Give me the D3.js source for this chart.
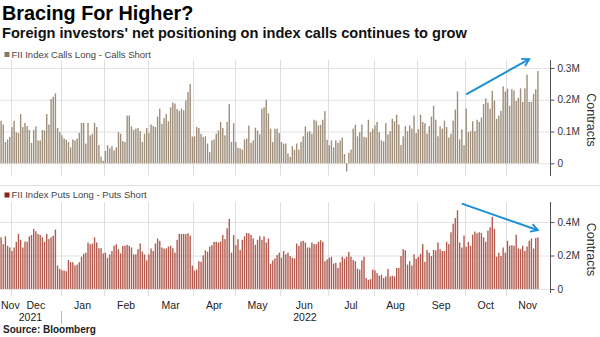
<!DOCTYPE html>
<html>
<head>
<meta charset="utf-8">
<script src="https://cdn.jsdelivr.net/npm/d3@7/dist/d3.min.js"></script>
<style>
  html, body { margin: 0; padding: 0; background: #fff; }
  svg { display: block; font-family: "Liberation Sans", Arial, sans-serif; }
</style>
</head>
<body>
<svg id="chart" width="600" height="337"></svg>
<script>
// Trading sessions: weekdays between these dates, minus exchange holidays
const firstSession = "2021-11-24";
const lastSession = "2022-11-22";
const holidays = [
  "2022-01-26", "2022-03-01", "2022-03-18", "2022-04-14", "2022-04-15",
  "2022-05-03", "2022-08-09", "2022-08-15", "2022-08-31", "2022-10-05",
  "2022-10-26", "2022-11-08"
];

// FII index calls, long minus short (thousand contracts), one value per session
const callsNet = [
  134,122,67,75,83,114,134,98,95,155, 114,127,117,105,64,105,116,72,72,105,
  103,155,122,202,209,220,111,98,88,78, 74,67,50,75,72,78,96,127,127,62,
  127,88,93,127,114,57,21,8,39,57, 47,54,41,50,98,93,70,67,150,150,
  116,105,109,111,101,67,93,111,96,122, 117,114,147,172,124,142,155,132,176,191,
  188,171,165,172,167,
  198,224,250,84,85,114,111,93,83,85, 62,35,72,75,93,103,130,111,88,130,
  186,67,126,67,49,47,43,75,78,119, 64,72,112,103,91,172,176,200,157,109,
  67,109,109,95,67,62,62,31,20,54, 43,62,43,67,85,116,98,101,93,137,
  134,119,121,137,164,74,57,72,50,72, 64,72,81,29,-26,33,43,109,121,85,
  98,122,
  83,81,137,98,109,119,130,98,72,69, 126,91,101,140,132,153,122,57,85,117,
  101,119,109,150,95,107,153,130,126,93, 117,147,181,137,85,116,109,134,114,81,
  93,134,169,226,75,107,57,172,98,101, 132,101,137,130,144,186,204,191,172,228,
  198,140,150,165,242,226,235,181,233,229, 196,206,236,193,236,279,193,193,218,233,
  290
];

// FII index puts, long minus short (thousand contracts), one value per session
const putsNet = [
  309,268,315,258,248,227,248,282,329,294, 248,284,282,315,323,359,345,329,323,309,
  282,329,298,309,319,355,140,120,112,110, 106,173,160,160,140,146,160,193,211,217,
  278,268,272,309,278,244,244,213,217,187, 207,227,258,268,238,213,258,258,264,258,
  248,207,207,238,272,223,207,171,207,242, 227,272,302,288,248,242,242,254,258,244,
  217,294,329,329,329,
  329,333,319,140,110,116,166,162,201,231, 223,254,262,282,282,278,284,323,298,363,
  420,217,323,262,298,233,294,315,335,333, 323,302,264,294,315,294,315,278,302,152,
  171,183,203,217,187,227,207,217,197,187, 183,272,258,284,288,278,248,248,278,268,
  268,282,292,282,166,177,187,193,152,156, 126,160,193,181,193,221,193,173,166,122,
  116,171,
  193,65,55,59,116,112,95,79,85,65, 75,120,75,79,75,126,126,197,238,231,
  146,166,140,207,181,193,211,268,162,233, 217,197,233,231,278,238,227,227,282,268,
  339,390,424,471,278,248,319,252,282,258, 325,343,333,339,335,309,282,349,369,430,
  359,193,217,197,248,217,288,258,262,258, 325,242,238,258,227,254,288,302,242,304,
  309
];

// Axis ticks (thousand contracts)
const callTicks = [0, 100, 200, 300];
const putTicks = [0, 200, 400];
const monthNames = ["Jan","Feb","Mar","Apr","May","Jun","Jul","Aug","Sep","Oct","Nov","Dec"];

// Trend annotations: [session index, value]
const callsTrend = [[214, 217], [243, 328]];
const putsTrend = [[212, 510], [247, 351]];

const titleText = "Bracing For Higher?";
const subtitleText = "Foreign investors' net positioning on index calls continues to grow";
const callsLabel = "FII Index Calls Long - Calls Short";
const putsLabel = "FII Index Puts Long - Puts Short";
const unitLabel = "Contracts";
const sourceText = "Source: Bloomberg";

// ---- sessions ----
const parse = d3.utcParse("%Y-%m-%d");
const fmtDay = d3.utcFormat("%Y-%m-%d");
const holidaySet = new Set(holidays);
let sessions = d3.utcDay.range(parse(firstSession), d3.utcDay.offset(parse(lastSession), 1))
  .filter(d => d.getUTCDay() % 6 !== 0 && !holidaySet.has(fmtDay(d)));
const n = Math.min(sessions.length, callsNet.length, putsNet.length);
sessions = sessions.slice(0, n);

// ---- layout ----
const W = 600;
const plotLeft = 0, barsRight = 539, axisX = 550;
const svg = d3.select("#chart");

const x = d3.scaleBand().domain(sessions).range([plotLeft, barsRight])
  .paddingInner(0.36).paddingOuter(0.18);
const step = x.step();
const cx = i => x(sessions[i]) + x.bandwidth() / 2;
const edge = d => x(d) - (step - x.bandwidth()) / 2;

// month boundaries
const monthStarts = sessions.filter((d, i) => i > 0 && d.getUTCMonth() !== sessions[i - 1].getUTCMonth());
const boundaries = monthStarts.map(edge);
const spans = [];
const cuts = [plotLeft, ...boundaries, axisX - 1];
const spanMonths = [sessions[0], ...monthStarts];
for (let i = 0; i < spanMonths.length; i++) {
  spans.push({ d: spanMonths[i], x0: cuts[i], x1: cuts[i + 1] });
}

// defs: arrowhead
const defs = svg.append("defs");
defs.append("marker")
  .attr("id", "arrow").attr("viewBox", "-10 -6 12 12")
  .attr("refX", 0).attr("refY", 0)
  .attr("markerWidth", 12).attr("markerHeight", 12)
  .attr("markerUnits", "userSpaceOnUse").attr("orient", "auto")
  .append("path").attr("d", "M-7,-4 L0,0 L-7,4")
  .attr("fill", "none").attr("stroke", "#1a8fd6").attr("stroke-width", 1.8);

// ---- headings ----
svg.append("text").attr("x", 2).attr("y", 20)
  .attr("font-size", 19.8).attr("font-weight", "bold").attr("fill", "#000")
  .text(titleText);
svg.append("text").attr("x", 2).attr("y", 37.5)
  .attr("font-size", 14.6).attr("font-weight", "bold").attr("fill", "#111")
  .text(subtitleText);

function panel(cfg) {
  const g = svg.append("g");
  const y = d3.scaleLinear().domain(cfg.domain).range([cfg.bottom, cfg.top]);

  // legend
  g.append("rect").attr("x", 4.5).attr("y", cfg.legendY - 5.5)
    .attr("width", 5).attr("height", 5).attr("fill", cfg.legendColor);
  g.append("text").attr("x", 11.5).attr("y", cfg.legendY)
    .attr("font-size", 9.5).attr("fill", "#444").text(cfg.label);

  // grid
  g.append("g").selectAll("line").data(cfg.ticks).join("line")
    .attr("x1", plotLeft).attr("x2", axisX)
    .attr("y1", d => y(d) + 0.5).attr("y2", d => y(d) + 0.5)
    .attr("stroke", "#e3e3e3").attr("stroke-width", 1);
  g.append("g").selectAll("line").data(boundaries).join("line")
    .attr("x1", d => Math.round(d) + 0.5).attr("x2", d => Math.round(d) + 0.5)
    .attr("y1", cfg.top).attr("y2", cfg.gridBottom)
    .attr("stroke", "#dedede").attr("stroke-width", 1);

  // bars
  g.append("g").selectAll("rect").data(cfg.values.slice(0, n)).join("rect")
    .attr("x", (v, i) => x(sessions[i]))
    .attr("width", x.bandwidth())
    .attr("y", v => Math.min(y(v), y(0)))
    .attr("height", v => Math.abs(y(v) - y(0)))
    .attr("fill", cfg.color);

  // right axis
  const axis = d3.axisRight(y).tickValues(cfg.ticks).tickSize(4).tickPadding(3)
    .tickFormat(v => v === 0 ? "0" : (v / 1000) + "M");
  const ax = g.append("g").attr("transform", `translate(${axisX + 0.5},0)`).call(axis);
  ax.select(".domain").attr("stroke", "#555").attr("d", `M0,${cfg.top}V${cfg.bottom}`);
  ax.selectAll(".tick line").attr("stroke", "#555");
  ax.selectAll(".tick text").attr("font-size", 10).attr("fill", "#333")
    .attr("font-family", "'Liberation Sans', Arial, sans-serif");

  g.append("text")
    .attr("transform", `translate(591,${(cfg.top + cfg.bottom) / 2 + 2}) rotate(90)`)
    .attr("text-anchor", "middle").attr("dominant-baseline", "central")
    .attr("font-size", 12.5).attr("fill", "#333").text(unitLabel);

  // trend arrow
  const t = cfg.trend;
  g.append("line")
    .attr("x1", cx(t[0][0])).attr("y1", y(t[0][1]))
    .attr("x2", cx(t[1][0])).attr("y2", y(t[1][1]))
    .attr("stroke", "#1a8fd6").attr("stroke-width", 2)
    .attr("marker-end", "url(#arrow)");
  return y;
}

panel({
  values: callsNet, ticks: callTicks, domain: [-40, 325], top: 60, bottom: 176, gridBottom: 176,
  color: "#9d8d79", legendColor: "#8a7860", legendY: 57.5, label: callsLabel, trend: callsTrend
});

// panel separator
svg.append("line").attr("x1", 0).attr("x2", W).attr("y1", 185.5).attr("y2", 185.5)
  .attr("stroke", "#e2e2e2");

panel({
  values: putsNet, ticks: putTicks, domain: [-24, 520], top: 202, bottom: 293, gridBottom: 296,
  color: "#b25a4e", legendColor: "#8e2219", legendY: 198, label: putsLabel, trend: putsTrend
});

// ---- bottom time axis ----
const xa = svg.append("g").attr("font-size", 10.5).attr("fill", "#222");
xa.selectAll("text.month").data(spans).join("text").attr("class", "month")
  .attr("x", (s, i) => i === 0 ? Math.max(s.x0 + 1, (s.x0 + s.x1) / 2 - 8) : (s.x0 + s.x1) / 2)
  .attr("text-anchor", (s, i) => i === 0 ? "start" : "middle")
  .attr("y", 309)
  .text(s => monthNames[s.d.getUTCMonth()]);

// year labels, centred over each year's sessions
const yearGroups = d3.groups(spans, s => s.d.getUTCFullYear());
yearGroups.forEach(([yr, ss]) => {
  const x0 = ss[0].x0, x1 = ss[ss.length - 1].x1;
  xa.append("text").attr("x", (x0 + x1) / 2).attr("y", 321)
    .attr("text-anchor", "middle").text(yr);
});
yearGroups.slice(1).forEach(([yr, ss]) => {
  const bx = Math.round(ss[0].x0) + 0.5;
  svg.append("line").attr("x1", bx).attr("x2", bx).attr("y1", 311).attr("y2", 324)
    .attr("stroke", "#bbb");
});

svg.append("text").attr("x", 3).attr("y", 333)
  .attr("font-size", 10).attr("font-weight", "bold").attr("fill", "#222")
  .text(sourceText);
</script>
</body>
</html>
